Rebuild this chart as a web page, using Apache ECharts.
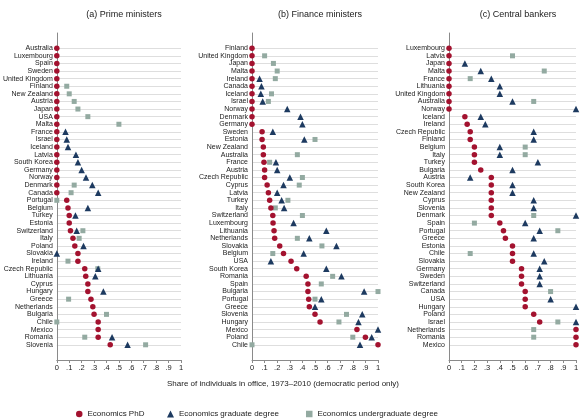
<!DOCTYPE html>
<html>
<head>
<meta charset="utf-8">
<script src="https://cdn.jsdelivr.net/npm/echarts@6/dist/echarts.min.js"></script>
<style>html,body{margin:0;padding:0;background:#fff}#c{width:586px;height:420px}</style>
</head>
<body>
<div id="c"></div>
<script>
// ---------- DATA ----------
const panelTitles = ['(a) Prime ministers', '(b) Finance ministers', '(c) Central bankers'];
const xAxisTitle = 'Share of individuals in office, 1973\u20132010 (democratic period only)';
const seriesNames = ['Economics PhD', 'Economics graduate degree', 'Economics undergraduate degree'];
const xTicks = [0, 0.1, 0.2, 0.3, 0.4, 0.5, 0.6, 0.7, 0.8, 0.9, 1];

const countriesA = ['Australia','Luxembourg','Spain','Sweden','United Kingdom','Finland','New Zealand','Austria','Japan','USA','Malta','France','Israel','Iceland','Latvia','South Korea','Germany','Norway','Denmark','Canada','Portugal','Belgium','Turkey','Estonia','Switzerland','Italy','Poland','Slovakia','Ireland','Czech Republic','Lithuania','Cyprus','Hungary','Greece','Netherlands','Bulgaria','Chile','Mexico','Romania','Slovenia'];
const phdA   = [0,0,0,0,0, 0,0,0,0,0, 0,0,0,0,0, 0,0,0,0,0, 0.08,0.09,0.10,0.10,0.11, 0.13,0.145,0.17,0.17,0.225, 0.233,0.25,0.25,0.275,0.29, 0.30,0.333,0.333,0.333,0.43];
const gradA  = [null,null,null,null,null, null,null,null,null,null, null,0.07,0.08,0.09,0.154, 0.17,0.20,0.235,0.286,0.333, null,0.25,0.15,null,0.16, null,0.215,0,null,0.333, 0.31,null,0.375,null,null, null,null,null,0.445,0.57];
const ugradA = [null,null,null,null,null, 0.08,0.10,0.14,0.17,0.25, 0.50,null,null,null,null, null,null,null,0.14,0.115, 0,null,null,null,0.21, 0.18,null,null,0.09,0.33, null,null,null,0.095,null, 0.40,0,null,0.225,0.715];

const countriesB = ['Finland','United Kingdom','Japan','Malta','Ireland','Canada','Iceland','Israel','Norway','Denmark','Germany','Sweden','Estonia','New Zealand','Australia','France','Austria','Czech Republic','Cyprus','Latvia','Turkey','Italy','Switzerland','Luxembourg','Lithuania','Netherlands','Slovakia','Belgium','USA','South Korea','Romania','Spain','Bulgaria','Portugal','Greece','Slovenia','Hungary','Mexico','Poland','Chile'];
const phdB   = [0,0,0,0,0, 0,0,0,0,0, 0,0.08,0.08,0.09,0.09, 0.095,0.10,0.10,0.12,0.13, 0.14,0.15,0.165,0.167,0.175, 0.18,0.22,0.25,0.31,0.355, 0.43,0.444,0.444,0.45,0.455, 0.50,0.54,0.833,0.90,1];
const gradB  = [null,null,null,null,0.06, 0.075,0.07,0.085,0.28,0.385, 0.40,0.165,0.415,null,null, 0.19,0.20,0.30,0.25,0.20, 0.235,0.255,null,0.33,0.59, 0.455,0.67,0.41,0.15,0.59, 0.71,null,0.89,0.55,0.50, 0.875,0.845,1,0.95,0.857];
const ugradB = [null,0.10,0.17,0.20,0.185, null,0.155,0.13,null,null, null,null,0.50,null,0.36, 0.14,null,0.40,0.375,null, 0.285,0.185,0.40,null,null, 0.36,0.555,0.165,null,null, 0.64,0.55,1,0.50,null, 0.75,0.69,null,0.80,0];

const countriesC = ['Luxembourg','Latvia','Japan','Malta','France','Lithuania','United Kingdom','Australia','Norway','Iceland','Ireland','Czech Republic','Finland','Belgium','Italy','Turkey','Bulgaria','Austria','South Korea','New Zealand','Cyprus','Slovenia','Denmark','Spain','Portugal','Greece','Estonia','Chile','Slovakia','Germany','Sweden','Switzerland','Canada','USA','Hungary','Poland','Israel','Netherlands','Romania','Mexico'];
const phdC   = [0,0,0,0,0, 0,0,0,0,0.125, 0.143,0.167,0.167,0.20,0.20, 0.20,0.25,0.333,0.333,0.333, 0.333,0.333,0.333,0.40,0.429, 0.444,0.50,0.50,0.50,0.571, 0.571,0.571,0.60,0.60,0.60, 0.667,0.714,1,1,1];
const gradC  = [null,null,0.125,0.25,0.333, 0.40,0.40,0.50,1,0.25, 0.286,0.667,0.667,0.40,0.40, 0.70,0.50,0.167,0.50,0.50, 0.667,0.667,1,0.60,0.714, 0.667,null,0.667,0.75,0.714, 0.714,0.714,null,0.80,1, null,1,null,null,null];
const ugradC = [null,0.50,null,0.75,0.167, null,null,0.667,null,null, null,null,null,0.60,0.60, null,null,null,null,null, null,null,0.667,0.20,0.857, null,null,0.167,null,null, null,null,0.80,null,null, null,0.857,0.667,0.667,null];

const panels = [
  {countries: countriesA, vals: [phdA, gradA, ugradA]},
  {countries: countriesB, vals: [phdB, gradB, ugradB]},
  {countries: countriesC, vals: [phdC, gradC, ugradC]}
];

// ---------- STYLE ----------
const FONT = "'Liberation Sans', Arial, Helvetica, sans-serif";
const colors = ['#a3122f', '#1d3a60', '#93aaa1'];
const symbols = ['circle', 'triangle', 'rect'];
const symbolSizes = [5.5, 6.5, 5];
const zs = [4, 3, 2];
const gridLefts = [54, 252, 449];
const gridWidths = [127, 126, 127];
const titleX = [124, 320, 518];
const PAD_TOP = ['\u200b', '\u200b\u200b'];
const PAD_BOT = ['\u200b\u200b\u200b', '\u200b\u200b\u200b\u200b'];

const grid = [], xAxis = [], yAxis = [], series = [];
panels.forEach((p, k) => {
  const n = p.countries.length;
  grid.push({left: gridLefts[k], width: gridWidths[k], top: 33, height: 327, containLabel: false});
  xAxis.push({
    type: 'value', gridIndex: k, min: xTicks[0], max: xTicks[xTicks.length - 1], interval: 0.1,
    axisLine: {show: true, lineStyle: {color: '#8a8a8a', width: 1}},
    axisTick: {show: true, length: 3, lineStyle: {color: '#8a8a8a'}},
    splitLine: {show: false},
    axisLabel: {
      fontFamily: FONT, fontSize: 7.5, color: '#222', margin: 4,
      formatter: v => v === 0 ? '0' : (v === 1 ? '1' : '.' + Math.round(v * 10))
    }
  });
  yAxis.push({
    type: 'category', gridIndex: k, inverse: true, boundaryGap: false,
    data: PAD_TOP.concat(p.countries, PAD_BOT),
    axisLine: {show: true, onZero: false, lineStyle: {color: '#8a8a8a', width: 1}},
    axisTick: {show: false},
    axisLabel: {fontFamily: FONT, fontSize: 7, color: '#1a1a1a', margin: 4, interval: 0},
    splitLine: {
      show: true,
      interval: (i) => i >= PAD_TOP.length && i < PAD_TOP.length + n,
      lineStyle: {color: '#dedede', width: 1}
    }
  });
  for (let s = 0; s < 3; s++) {
    const data = [];
    p.vals[s].forEach((v, i) => { if (v !== null) data.push([v, p.countries[i]]); });
    series.push({
      name: seriesNames[s], type: 'scatter', xAxisIndex: k, yAxisIndex: k,
      symbol: symbols[s], symbolSize: symbolSizes[s], z: zs[s],
      itemStyle: {color: colors[s], opacity: 1},
      emphasis: {disabled: true},
      data: data
    });
  }
});

const legendLefts = [71, 162, 301];
const legend = seriesNames.map((nm, i) => ({
  data: [{name: nm, icon: symbols[i]}],
  left: legendLefts[i], top: 405,
  itemWidth: i === 1 ? 7 : 6.5, itemHeight: i === 1 ? 7 : 6.5,
  textStyle: {fontFamily: FONT, fontSize: 8, color: '#1a1a1a'},
  selectedMode: false
}));

const graphic = panelTitles.map((t, i) => ({
  type: 'text', x: titleX[i], y: 15,
  style: {text: t, fontFamily: FONT, fontSize: 9, fill: '#1a1a1a', align: 'center', verticalAlign: 'middle'}
}));
graphic.push({
  type: 'text', x: 283, y: 384,
  style: {text: xAxisTitle, fontFamily: FONT, fontSize: 8, fill: '#1a1a1a', align: 'center', verticalAlign: 'middle'}
});

const chart = echarts.init(document.getElementById('c'), null, {renderer: 'canvas'});
chart.setOption({
  animation: false,
  backgroundColor: '#ffffff',
  color: colors,
  grid, xAxis, yAxis, series, legend, graphic
});
</script>
</body>
</html>
